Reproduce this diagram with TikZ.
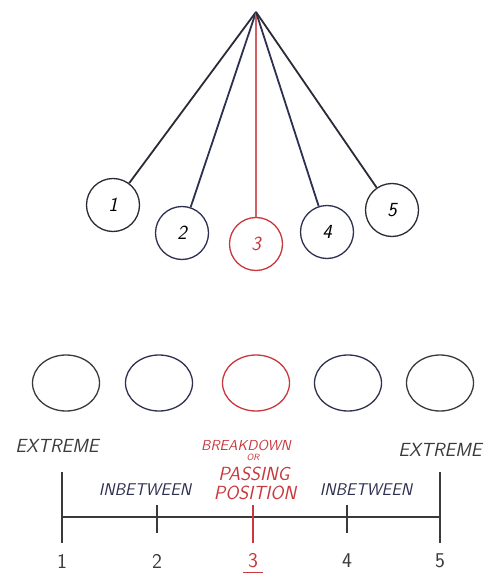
\documentclass[tikz,border=0pt]{standalone}
\usetikzlibrary{shapes.geometric}
\definecolor{ink}{HTML}{2B2B36}
\definecolor{navy}{HTML}{2E3050}
\definecolor{redink}{HTML}{C8383C}
\definecolor{greyink}{HTML}{3A3A3A}
\tikzset{
  bob/.style={circle, draw, line width=1.3pt, minimum size=53pt, inner sep=0pt, font=\sffamily\slshape\fontsize{20}{20}\selectfont},
  ball/.style={ellipse, draw, line width=1.3pt, minimum width=67pt, minimum height=56pt, inner sep=0pt},
  string/.style={line width=1.8pt},
  label/.style={font=\sffamily\slshape\fontsize{19}{19}\selectfont, inner sep=0pt},
  mid/.style={font=\sffamily\slshape\fontsize{17}{17}\selectfont, inner sep=0pt},
  small/.style={font=\sffamily\slshape\fontsize{14.5}{14.5}\selectfont, inner sep=0pt},
  tiny/.style={font=\sffamily\slshape\fontsize{9}{9}\selectfont, inner sep=0pt},
  num/.style={font=\sffamily\fontsize{21}{21}\selectfont, inner sep=0pt},
  tick/.style={line width=1.4pt}
}
\begin{document}
\begin{tikzpicture}[x=1pt,y=-1pt]
\useasboundingbox (0,0) rectangle (493,577);

% pendulum pivot and swinging bobs
\coordinate (pivot) at (256,12);
\node[bob, draw=ink]    (b1) at (113,205) {1};
\node[bob, draw=navy]   (b2) at (182,233) {2};
\node[bob, draw=redink, text=redink] (b3) at (256,244) {3};
\node[bob, draw=navy]   (b4) at (327,232) {4};
\node[bob, draw=ink]    (b5) at (392,210) {5};

\draw[string, ink]  (pivot) -- (b1);
\draw[string, navy] (pivot) -- (b2);
\draw[string, redink!80, line width=1.2pt] (pivot) -- (b3);
\draw[string, navy] (pivot) -- (b4);
\draw[string, ink]  (pivot) -- (b5);

% positions laid out in a row
\node[ball, draw=greyink] (p1) at (66,383) {};
\node[ball, draw=navy]    (p2) at (159,383) {};
\node[ball, draw=redink]  (p3) at (256,383) {};
\node[ball, draw=navy]    (p4) at (348,383) {};
\node[ball, draw=greyink] (p5) at (440,383) {};

% labels
\node[label, text=greyink] (e1) at (57,446) {EXTREME};
\node[label, text=greyink] (e5) at (440,450) {EXTREME};
\node[small, text=redink] (bd) at (246,445) {BREAKDOWN};
\node[tiny, text=redink] (or) at (253,457) {OR};
\node[label, text=redink] (pa) at (254,474) {PASSING};
\node[label, text=redink] (po) at (255,493) {POSITION};
\node[mid, text=navy] (ib1) at (145,490) {INBETWEEN};
\node[mid, text=navy] (ib2) at (366,490) {INBETWEEN};

% timing chart
\coordinate (t1) at (62,517);
\coordinate (t2) at (157,517);
\coordinate (t3) at (253,517);
\coordinate (t4) at (347,517);
\coordinate (t5) at (440,517);
\draw[tick, greyink] (t1) -- (t5);
\draw[tick, greyink] ([yshift=45pt]t1) -- ([yshift=-26pt]t1);
\draw[tick, greyink] ([yshift=45pt]t5) -- ([yshift=-26pt]t5);
\draw[tick, greyink] ([yshift=12pt]t2) -- ([yshift=-16pt]t2);
\draw[tick, redink]  ([yshift=12pt]t3) -- ([yshift=-26pt]t3);
\draw[tick, greyink] ([yshift=12pt]t4) -- ([yshift=-16pt]t4);

\node[num, text=greyink] (n1) at (62,561) {1};
\node[num, text=greyink] (n2) at (157,561) {2};
\node[num, text=redink]  (n3) at (253,561) {3};
\node[num, text=greyink] (n4) at (347,561) {4};
\node[num, text=greyink] (n5) at (440,561) {5};
\draw[redink, line width=1.3pt] ([xshift=-10pt,yshift=-4pt]n3.south) -- ([xshift=10pt,yshift=-4pt]n3.south);
\end{tikzpicture}
\end{document}
